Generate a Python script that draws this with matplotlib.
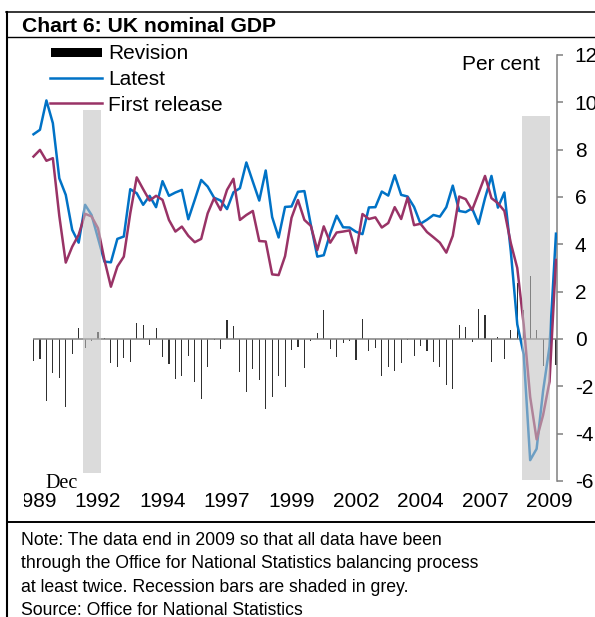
import matplotlib
matplotlib.use('Agg')
import matplotlib.pyplot as plt
from matplotlib.lines import Line2D
from matplotlib.patches import Rectangle
from matplotlib.transforms import Bbox, TransformedBbox

plt.rcParams['font.family'] = ['Liberation Sans', 'DejaVu Sans']
plt.rcParams['axes.unicode_minus'] = False

# quarterly data, 1989 Q3 to 2009 Q4
quarters = list(range(82))
tick_pos = list(range(0, 81, 10))
tick_labels = ['1989', '1992', '1994', '1997', '1999', '2002', '2004', '2007', '2009']

latest = [8.65, 8.84, 10.08, 9.12, 6.79, 6.09, 4.61, 4.07, 5.67, 5.24,
          4.26, 3.27, 3.24, 4.23, 4.33, 6.33, 6.16, 5.67, 6.05, 5.57,
          6.67, 6.05, 6.19, 6.30, 5.06, 5.88, 6.72, 6.44, 5.97, 5.85,
          5.49, 6.20, 6.37, 7.46, 6.65, 5.85, 7.12, 5.15, 4.29, 5.58,
          5.60, 6.22, 6.25, 4.82, 3.48, 3.54, 4.46, 5.21, 4.72, 4.71,
          4.53, 4.43, 5.56, 5.57, 6.23, 6.06, 6.92, 6.09, 6.02, 5.58,
          4.87, 5.04, 5.24, 5.17, 5.57, 6.48, 5.41, 5.36, 5.52, 4.86,
          5.95, 6.89, 5.55, 6.19, 3.70, 0.62, -0.65, -5.12, -4.64, -2.20,
          -0.32, 4.45]

first_release = [7.71, 7.99, 7.53, 7.64, 5.20, 3.23, 3.90, 4.40, 5.29, 5.18,
                 4.68, 3.34, 2.21, 3.06, 3.48, 5.31, 6.83, 6.33, 5.85, 6.05,
                 5.88, 5.03, 4.54, 4.75, 4.36, 4.09, 4.23, 5.31, 5.95, 5.45,
                 6.30, 6.77, 5.03, 5.24, 5.41, 4.14, 4.12, 2.73, 2.70, 3.50,
                 5.12, 5.87, 5.03, 4.78, 3.76, 4.76, 4.07, 4.50, 4.54, 4.59,
                 3.63, 5.28, 5.07, 5.14, 4.71, 4.90, 5.57, 5.07, 5.98, 4.81,
                 4.87, 4.52, 4.30, 4.07, 3.65, 4.36, 6.02, 5.91, 5.45, 6.16,
                 6.89, 5.95, 5.74, 5.41, 4.05, 3.00, 0.60, -2.45, -4.24, -3.22,
                 -1.80, 3.34]

revision = [-0.92, -0.86, -2.61, -1.45, -1.66, -2.86, -0.65, 0.45, -0.37, -0.07,
            0.28, 0.05, -1.03, -1.20, -0.82, -0.99, 0.66, 0.59, -0.25, 0.45,
            -0.77, -1.06, -1.69, -1.55, -0.70, -1.80, -2.54, -1.17, -0.03, -0.42,
            0.80, 0.56, -1.38, -2.23, -1.27, -1.73, -2.97, -2.44, -1.56, -2.02,
            -0.47, -0.35, -1.24, -0.07, 0.27, 1.23, -0.44, -0.75, -0.16, -0.08,
            -0.89, 0.83, -0.49, -0.39, -1.55, -1.17, -1.34, -1.03, -0.04, -0.72,
            -0.30, -0.51, -0.99, -1.17, -1.95, -2.11, 0.59, 0.52, -0.11, 1.25,
            1.01, -0.99, 0.10, -0.86, 0.38, 2.35, 1.23, 2.66, 0.38, -1.13,
            -1.50, -1.10]

# recession bars (quarter index range and vertical extent in per cent)
rec_start = [7.7, 75.8]
rec_end = [10.45, 80.0]
rec_top = [9.68, 9.43]
rec_bottom = [-5.67, -5.96]

W, H = 595, 617


def fx(x):
    return x / W


def fy(y):
    return 1 - y / H


fig = plt.figure(figsize=(W / 100, H / 100), dpi=100)
ax = fig.add_axes([fx(30), fy(481), (557 - 30) / W, (481 - 55) / H])
ax.set_xlim(-0.543, 81.16)
ax.set_ylim(-6, 12)

grey = '#808080'
blue = '#0072C6'
maroon = '#993366'

ax.bar(quarters, revision, width=0.17, color='#303030', lw=0, zorder=2)
ax.hlines(0, quarters[0] - 0.1, 81.16, color=grey, lw=1.1, zorder=2.5)
ax.plot(quarters, latest, color=blue, lw=1.8, zorder=3)
ax.plot(quarters, first_release, color=maroon, lw=1.8, zorder=3)
for s, e, t, b in zip(rec_start, rec_end, rec_top, rec_bottom):
    ax.bar(s, t - b, bottom=b, width=e - s, align='edge',
           color='#c1c1c1', alpha=0.57, lw=0, zorder=4)

for side in ['left', 'top', 'bottom']:
    ax.spines[side].set_visible(False)
ax.spines['right'].set_color(grey)
ax.spines['right'].set_linewidth(1.1)
ax.yaxis.tick_right()
ax.set_yticks(range(-6, 13, 2))
ax.tick_params(axis='y', direction='out', length=4.3, width=1.1, color=grey,
               labelsize=15, pad=8.5)
ax.set_xticks(tick_pos)
ax.set_xticklabels(tick_labels)
ax.tick_params(axis='x', length=0, labelsize=15, pad=8)
ax.patch.set_visible(False)

# the first year label is cut off on the left in the original
clip = TransformedBbox(Bbox([[fx(24), 0], [1, 1]]), fig.transFigure)
first_lab = ax.get_xticklabels()[0]
first_lab.set_clip_on(True)
first_lab.set_clip_box(clip)

ax.text(fx(45), fy(488), 'Dec', transform=fig.transFigure, fontsize=14.5,
        family=['Liberation Serif', 'DejaVu Serif'], va='baseline')
fig.text(fx(462), fy(70), 'Per cent', fontsize=15, va='baseline')

# title and frame
fig.text(fx(22), fy(32), 'Chart 6: UK nominal GDP', fontsize=15.2,
         fontweight='bold', va='baseline')
fig.add_artist(Line2D([fx(7), fx(7)], [fy(11.5), 0], color='black', lw=1.5))
fig.add_artist(Line2D([fx(6.3), 1], [fy(12), fy(12)], color='black', lw=1.1))
fig.add_artist(Line2D([fx(7), 1], [fy(37), fy(37)], color='black', lw=1.0))
fig.add_artist(Line2D([fx(7), 1], [fy(522), fy(522)], color='black', lw=1.4))

# legend
fig.add_artist(Rectangle((fx(51), fy(57.3)), (101.7 - 51) / W, 9.6 / H,
                         color='black', lw=0))
fig.add_artist(Line2D([fx(50), fx(102)], [fy(78.3), fy(78.3)], color=blue, lw=1.8))
fig.add_artist(Line2D([fx(50), fx(102)], [fy(102.7), fy(102.7)], color=maroon, lw=1.8))
for label, base in zip(['Revision', 'Latest', 'First release'], [59, 85, 110.7]):
    fig.text(fx(108), fy(base), label, fontsize=15, va='baseline')

notes = ['Note: The data end in 2009 so that all data have been',
         'through the Office for National Statistics balancing process',
         'at least twice. Recession bars are shaded in grey.',
         'Source: Office for National Statistics']
for line, base in zip(notes, [545, 568.3, 591.7, 615]):
    fig.text(fx(21), fy(base), line, fontsize=12.7, va='baseline')

plt.savefig('out.png', dpi=100)
